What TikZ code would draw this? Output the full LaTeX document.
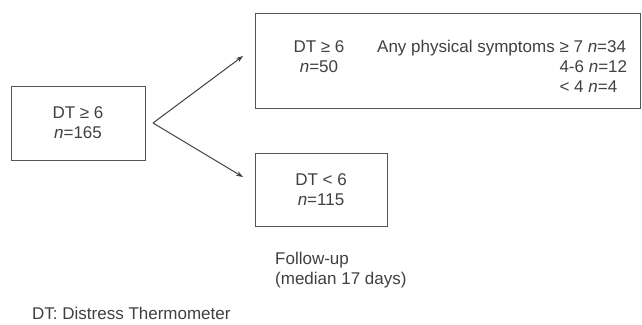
\documentclass[tikz,border=0pt]{standalone}
\usepackage{fontspec}
\setmainfont{Liberation Sans}
\usepackage{tikz}
\usetikzlibrary{arrows.meta}

\definecolor{ink}{HTML}{404040}
\definecolor{frame}{HTML}{555555}

\tikzset{
	dtbox/.style={shape=rectangle,draw=frame,line width=1pt,inner sep=0pt},
	dtarrow/.style={-{Stealth[length=7pt,width=5pt]},draw=ink,line width=1pt},
}

\begin{document}
\begin{tikzpicture}[x=1pt,y=-1pt,text=ink,font=\fontsize{17}{20}\selectfont]

		\useasboundingbox (0,0) rectangle (642,324);

		\node[dtbox,minimum width=134pt,minimum height=74pt] (all) at (78, 123)     {};
		\node[dtbox,minimum width=385pt,minimum height=95pt] (high) at (447.5, 60.5) {};
		\node[dtbox,minimum width=132pt,minimum height=73pt] (low) at (321, 189.5)  {};

		\node[align=center] (alltext) at (78, 123)     {DT ≥ 6\\\textit{n}=165};
		\node[align=center] (hightext) at (319, 57)    {DT ≥ 6\\\textit{n}=50};
		\node[align=center] (lowtext) at (321, 189.5)  {DT < 6\\\textit{n}=115};

		\node[anchor=north west,inner sep=0pt] (symptoms) at (377, 38) {%
			\begin{tabular}{@{}r@{ }l@{}}
				Any physical symptoms & ≥ 7 \textit{n}=34\\
				& 4-6 \textit{n}=12\\
				& < 4 \textit{n}=4
			\end{tabular}};

		\node[anchor=north west,inner sep=0pt,align=left] (followup) at (275, 252) {Follow-up\\(median 17 days)};
		\node[anchor=west,inner sep=0pt] (legend) at (32, 313) {DT: Distress Thermometer};

		\coordinate (split) at (153, 123);
		\coordinate (uptip) at (243, 56);
		\coordinate (downtip) at (243, 177);
		\draw[dtarrow] (split) -- (uptip);
		\draw[dtarrow] (split) -- (downtip);

\end{tikzpicture}
\end{document}
